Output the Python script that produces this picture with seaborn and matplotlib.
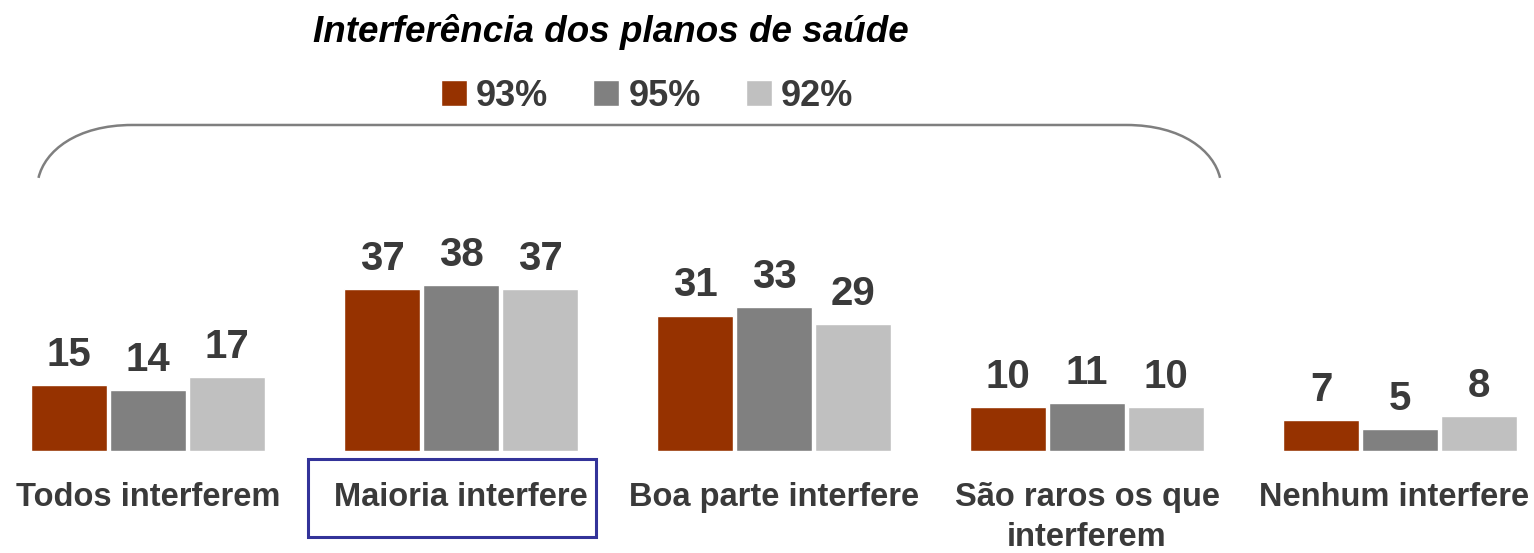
import pandas as pd
import matplotlib.pyplot as plt
import seaborn as sns
from matplotlib.path import Path
from matplotlib.patches import PathPatch, Rectangle
from matplotlib.transforms import offset_copy

categories = ["Todos interferem", "Maioria interfere", "Boa parte interfere",
              "São raros os que\ninterferem", "Nenhum interfere"]
series = ["93%", "95%", "92%"]
values_93 = [15, 37, 31, 10, 7]
values_95 = [14, 38, 33, 11, 5]
values_92 = [17, 37, 29, 10, 8]
colors = ["#963200", "#808080", "#C0C0C0"]

df = pd.DataFrame({
    "categoria": categories * 3,
    "grupo": [s for s in series for _ in categories],
    "valor": values_93 + values_95 + values_92,
})

sns.set_style("white")
plt.rcParams["font.family"] = ["Liberation Sans", "DejaVu Sans"]
text_color = "#3a3a3a"

fig = plt.figure(figsize=(15.34, 5.53), dpi=100)
ax = fig.add_axes([0, 102 / 553, 1, 451 / 553])

sns.barplot(data=df, x="categoria", y="valor", hue="grupo", hue_order=series,
            order=categories, palette=colors, width=0.757, gap=0.04,
            saturation=1, ax=ax)

for cont in ax.containers:
    ax.bar_label(cont, padding=8, fontsize=29, fontweight="bold", color=text_color)

ax.set_xlim(-0.473, 4.428)
ax.set_ylim(0, 103.2)
sns.despine(ax=ax, left=True, bottom=True)
ax.set_yticks([])
ax.set_xlabel("")
ax.set_ylabel("")
ax.tick_params(axis="x", length=0, pad=22)
ticklabels = ax.get_xticklabels()
for lbl in ticklabels:
    lbl.set_fontsize(23.5)
    lbl.set_fontweight("bold")
    lbl.set_color(text_color)
    lbl.set_linespacing(1.38)
# last label sits a little left of its bars so it stays inside the figure
ticklabels[-1].set_transform(offset_copy(ticklabels[-1].get_transform(),
                                         fig=fig, x=-6, units="dots"))

sns.move_legend(ax, "center", bbox_to_anchor=(647 / 1534, 1 - 96 / 553),
                bbox_transform=fig.transFigure, ncol=3, title=None, frameon=False,
                handlelength=0.72, handleheight=0.72, handletextpad=0.25,
                columnspacing=1.25, prop={"size": 26, "weight": "bold"})
for t in ax.get_legend().get_texts():
    t.set_color(text_color)

fig.text(611 / 1534, 1 - 32 / 553, "Interferência dos planos de saúde",
         ha="center", va="center", fontsize=26.5, fontweight="bold",
         fontstyle="italic", color="black")

# brace over the first four groups
x0, x1 = -0.35, 3.425
yb, yt = 62.5, 74.6
verts = [(x0, yb), (x0 + 0.02, yt - 6), (x0 + 0.12, yt), (x0 + 0.3, yt),
         (x1 - 0.3, yt),
         (x1 - 0.12, yt), (x1 - 0.02, yt - 6), (x1, yb)]
codes = [Path.MOVETO, Path.CURVE4, Path.CURVE4, Path.CURVE4,
         Path.LINETO, Path.CURVE4, Path.CURVE4, Path.CURVE4]
ax.add_patch(PathPatch(Path(verts, codes), facecolor="none",
                       edgecolor="#7f7f7f", lw=1.8, clip_on=False))

# highlight box around "Maioria interfere"
ax.add_patch(Rectangle((1 - 0.489, -19.7), 0.92, 17.9, facecolor="none",
                       edgecolor="#333399", lw=2.2, clip_on=False))

fig.savefig("out.png", dpi=100)
